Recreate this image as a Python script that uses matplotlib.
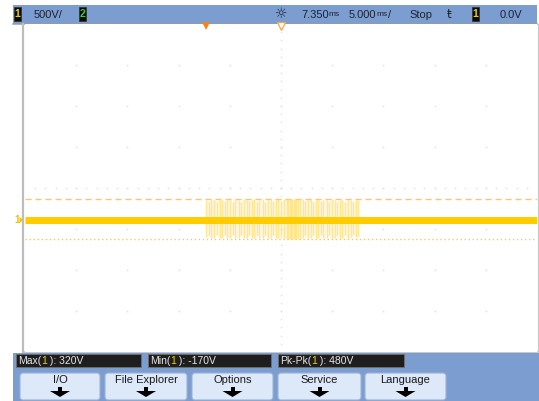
import matplotlib
matplotlib.use('Agg')
import matplotlib.pyplot as plt
from matplotlib.patches import Rectangle, FancyBboxPatch, Polygon
from matplotlib import transforms
import matplotlib.font_manager as fm
import numpy as np

W, H = 539, 401
_names = {f.name for f in fm.fontManager.ttflist}
FONT = 'Liberation Sans Narrow' if 'Liberation Sans Narrow' in _names else 'Liberation Sans'

# ---------------- data ----------------
volts_per_div = 500.0
ms_per_div = 5.0
delay_ms = 7.350
screen_center_v = 390.0          # voltage at the vertical centre of the screen
n_xdiv, n_ydiv = 10, 8

header_scale = "500V/"
header_delay = "7.350"
header_timebase = "5.000"
header_state = "Stop"
header_trig_level = "0.0V"

meas_labels = ["Max", "Min", "Pk-Pk"]
meas_values = ["320V", "-170V", "480V"]
cursor_hi_v = 255.0
cursor_lo_v = -232.0

buttons = ["I/O", "File Explorer", "Options", "Service", "Language"]

trace_t = [-17.65, 32.35]
trace_v = [0.0, 0.0]

burst_t = [0.05, 0.3, 0.55, 0.85, 1.1, 1.35, 1.6, 1.85, 2.1, 2.4,
           2.65, 2.9, 3.2, 3.45, 3.7, 4.0, 4.25, 4.5, 4.75, 5.0,
           5.25, 5.55, 5.8, 6.05, 6.35, 6.6, 6.85, 7.1, 7.35, 7.6,
           7.9, 8.05, 8.2, 8.35, 8.45, 8.6, 8.7, 8.85, 9.0, 9.2,
           9.45, 9.7, 9.95, 10.25, 10.5, 10.75, 11.0, 11.25, 11.5, 11.8,
           12.05, 12.3, 12.6, 12.85, 13.1, 13.35, 13.6, 13.85, 14.15, 14.4,
           14.65, 14.9]
burst_hi = [248, 224, 252, 246, 222, 252, 248, 226, 250, 246,
            224, 250, 246, 222, 252, 248, 226, 246, 250, 224,
            248, 252, 222, 246, 250, 226, 248, 252, 228, 252,
            254, 255, 255, 255, 252, 255, 254, 255, 252, 250,
            252, 228, 248, 250, 224, 246, 250, 226, 248, 246,
            222, 252, 248, 224, 246, 246, 222, 248, 246, 224,
            244, 240]
burst_lo = [-212, -185, -218, -215, -182, -220, -218, -186, -215, -218,
            -184, -220, -215, -182, -218, -218, -186, -215, -220, -184,
            -218, -222, -184, -218, -220, -188, -218, -224, -190, -225,
            -228, -230, -230, -228, -226, -230, -228, -230, -226, -224,
            -222, -188, -218, -220, -184, -215, -218, -186, -218, -215,
            -182, -220, -218, -184, -215, -218, -182, -218, -212, -184,
            -210, -200]

# ---------------- colours ----------------
BLUE = '#7B9DD0'
TXT = '#1C2433'
YEL = '#FFCC00'

fig = plt.figure(figsize=(W / 100, H / 100), dpi=100)
ov = fig.add_axes([0, 0, 1, 1])
ov.set_xlim(0, W)
ov.set_ylim(H, 0)
ov.axis('off')

PX = 0.72  # points per pixel

# top bar
ov.add_patch(Rectangle((13, 5), 524, 19, fc=BLUE, ec='none'))
ov.plot([13, 537], [23.8, 23.8], color='#9A9AA0', lw=1.5 * PX)
# screen borders
ov.plot([23, 23], [24, 352], color='#BDBDBD', lw=2.2 * PX)
ov.plot([537.5, 537.5], [24, 352], color='#C8C8C8', lw=1.2 * PX)
ov.plot([23, 537], [352, 352], color='#B8B8B8', lw=1.5 * PX)
# bottom panel
ov.add_patch(Rectangle((13, 353), 526, 48, fc=BLUE, ec='none'))

renderer = fig.canvas.get_renderer()


def rich(x, y, parts, size=8, va='center'):
    """parts: list of (text, color, size or None)"""
    for txt, col, sz in parts:
        t = ov.text(x, y, txt, color=col, fontsize=sz or size, family=FONT,
                    ha='left', va=va)
        bb = t.get_window_extent(renderer=renderer)
        x += bb.width


def chbox(x, label, col):
    ov.add_patch(Rectangle((x, 7), 7, 14, fc='#0A0A0A', ec='#303030', lw=0.5))
    ov.text(x + 3.5, 14.3, label, color=col, fontsize=7.5, fontweight='bold',
            family=FONT, ha='center', va='center')


chbox(14, '1', '#F0D000')
chbox(79, '2', '#30D030')
chbox(472, '1', '#F0D000')
rich(34, 14.5, [(header_scale, TXT, None)])
ov.text(281, 14, '\u263C', color=TXT, fontsize=10, family='DejaVu Sans', ha='center', va='center')
rich(301, 14.5, [(header_delay, TXT, None), ('ms', TXT, 6)])
rich(349, 14.5, [(header_timebase, TXT, None), ('ms', TXT, 6), ('/', TXT, None)])
rich(409, 14.5, [(header_state, TXT, None)])
ov.text(449, 14.5, '\u0167', color=TXT, fontsize=8.5, family='DejaVu Sans', ha='center', va='center')
rich(500, 14.5, [(header_trig_level, TXT, None)])

# measurement boxes
meas_x = [(16, 125), (148, 123), (278, 126)]
for (x0, w), lab, val in zip(meas_x, meas_labels, meas_values):
    ov.add_patch(Rectangle((x0, 354), w, 13, fc='#1E1E1E', ec='#707070', lw=0.6))
    rich(x0 + 2, 361, [(lab + '(', '#E6E6E6', None), ('1', '#F0D000', None),
                       (' ): ' + val, '#E6E6E6', None)], size=7.5)

# buttons
btn_x = [(20, 80), (105, 82), (192, 81), (278, 83), (365, 81)]
for (x0, w), lab in zip(btn_x, buttons):
    ov.add_patch(FancyBboxPatch((x0, 373), w, 27, boxstyle='round,pad=0,rounding_size=3',
                                fc='#DDE8F8', ec='#9DB3D6', lw=0.8))
    cx = x0 + w / 2
    ov.text(cx, 380, lab, color='#1A1A1A', fontsize=8, family=FONT, ha='center', va='center')
    ov.add_patch(Rectangle((cx - 2, 387), 4, 4, fc='black', ec='none'))
    ov.add_patch(Polygon([(cx - 10, 391), (cx + 10, 391), (cx, 397)], closed=True,
                         fc='black', ec='none'))

# ---------------- scope screen ----------------
ax = fig.add_axes([25 / W, (H - 352) / H, 512 / W, 328 / H])
ax.set_facecolor('white')
for s in ax.spines.values():
    s.set_visible(False)
ax.set_xticks([])
ax.set_yticks([])
x0 = delay_ms - n_xdiv / 2 * ms_per_div
x1 = delay_ms + n_xdiv / 2 * ms_per_div
y0 = screen_center_v - n_ydiv / 2 * volts_per_div
y1 = screen_center_v + n_ydiv / 2 * volts_per_div
ax.set_xlim(x0, x1)
ax.set_ylim(y0, y1)

# grid dots at intersections
gx = [x0 + i * ms_per_div for i in range(1, n_xdiv)]
gy = [y0 + j * volts_per_div for j in range(1, n_ydiv)]
GX, GY = np.meshgrid(gx, gy)
ax.plot(GX.ravel(), GY.ravel(), ls='none', marker='s', ms=1.1, color='#E2E2E2', mew=0)
# centre axes with minor ticks
minor_x = [x0 + k * ms_per_div / 5 for k in range(1, n_xdiv * 5)]
minor_y = [y0 + k * volts_per_div / 5 for k in range(1, n_ydiv * 5)]
ax.plot(minor_x, [screen_center_v] * len(minor_x), ls='none', marker='s', ms=1.1,
        color='#E4E4E4', mew=0)
ax.plot([delay_ms] * len(minor_y), minor_y, ls='none', marker='s', ms=1.1,
        color='#E4E4E4', mew=0)

# cursors
ax.axhline(cursor_hi_v, color='#FFC27A', lw=1.0, dashes=(4.3, 2.9))
ax.axhline(cursor_lo_v, color='#FFC27A', lw=1.0, dashes=(1.0, 1.9))

# burst
ax.fill_between(burst_t, burst_lo, burst_hi, color='#FFF1BC', alpha=0.45, lw=0)
ax.vlines(burst_t, burst_lo, burst_hi, color='#FFE07A', lw=1.0, alpha=0.75)
# ground trace
ax.plot(trace_t, trace_v, color=YEL, lw=7 * PX, solid_capstyle='butt')

# trigger markers on top edge
off = transforms.offset_copy(ax.transData, fig=fig, x=0, y=-2.2, units='dots')
ax.plot([0.0], [y1], marker='v', ms=5.5, color='#F5821F', mew=0, clip_on=False, transform=off)
ax.plot([delay_ms], [y1], marker='v', ms=5.5, mfc='white', mec='#F5A54A', mew=0.9,
        clip_on=False, transform=off)

# ground marker for channel 1 (left edge)
fig.canvas.draw()
gy_px = H - ax.transData.transform((0, 0.0))[1]
ov.text(17, gy_px + 0.5, '1', color='#F0C000', fontsize=7, family=FONT,
        ha='center', va='center', fontweight='bold')
ov.add_patch(Polygon([(19.5, gy_px - 3), (19.5, gy_px + 3), (23, gy_px)], closed=True,
                     fc='#F0C000', ec='none', zorder=5))

fig.savefig('out.png', dpi=100)
